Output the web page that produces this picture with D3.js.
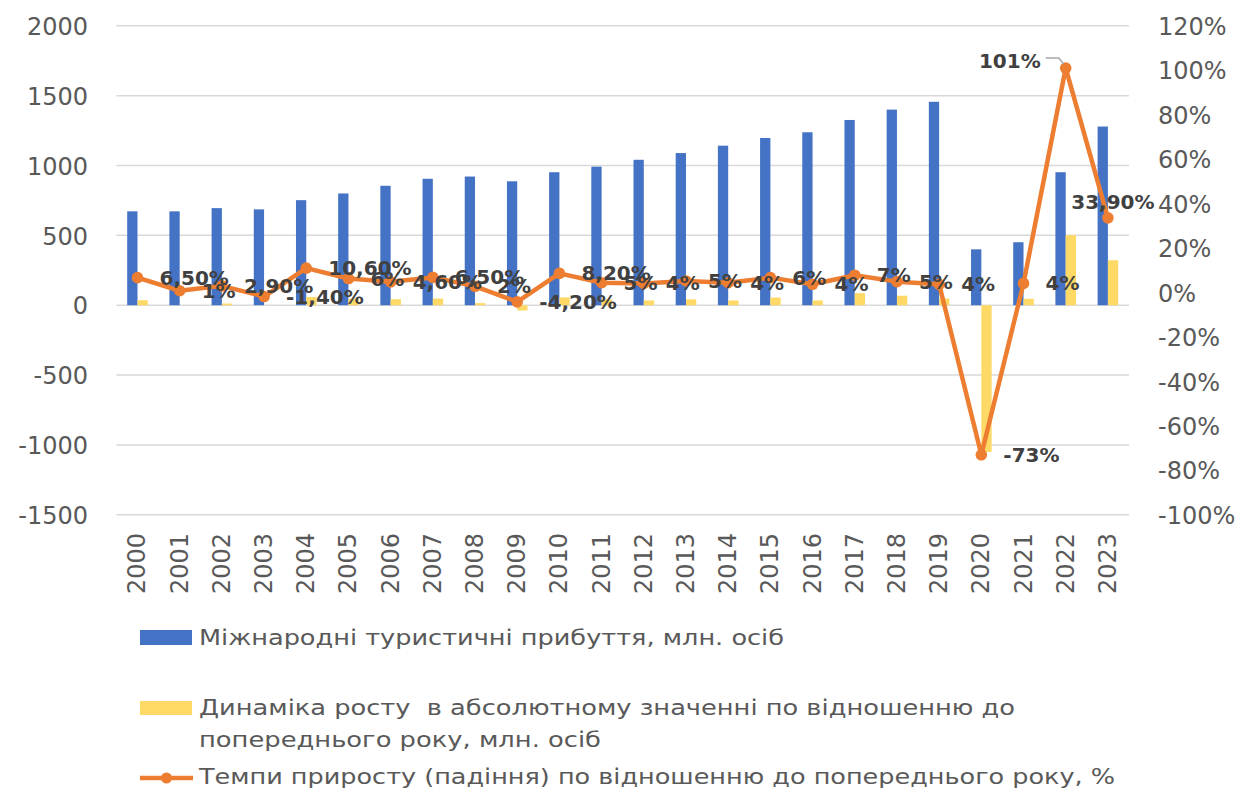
<!DOCTYPE html>
<html>
<head>
<meta charset="utf-8">
<script src="https://cdn.jsdelivr.net/npm/d3@7"></script>
<style>
  html, body { margin: 0; padding: 0; background: #ffffff; }
  svg { display: block; }
  text { font-family: "DejaVu Sans", Verdana, sans-serif; }
</style>
</head>
<body>
<svg id="chart" width="1254" height="792"></svg>
<script>
// ---------- DATA ----------
const years = ["2000","2001","2002","2003","2004","2005","2006","2007","2008","2009","2010","2011",
               "2012","2013","2014","2015","2016","2017","2018","2019","2020","2021","2022","2023"];
// International tourist arrivals, mln persons
const arrivals = [672, 672, 695, 686, 752, 800, 855, 905, 921, 887, 952, 992,
                  1041, 1089, 1142, 1197, 1238, 1326, 1400, 1456, 400, 451, 952, 1279];
// Absolute change to previous year, mln persons
const absChange = [36, 0, 12, 0, 59, 46, 43, 48, 15, -38, 56, 42,
                   34, 42, 34, 55, 34, 86, 68, 48, -1050, 46, 501, 322];
// Growth rate to previous year, %
const growthPct = [6.7, 0.8, 3.0, -1.8, 11.0, 6.3, 4.8, 6.8, 2.8, -4.2, 8.6, 4.4,
                   4.1, 5.2, 4.4, 6.7, 3.7, 7.8, 4.9, 3.7, -73, 4.1, 101, 33.6];
const growthLabels = ["6,50%","1%","2,90%","-1,40%","10,60%","6%","4,60%","6,50%","2%","-4,20%","8,20%","5%",
                      "4%","5%","4%","6%","4%","7%","5%","4%","-73%","4%","101%","33,90%"];
const leftTicks = [-1500, -1000, -500, 0, 500, 1000, 1500, 2000];
const rightTicks = [-100, -80, -60, -40, -20, 0, 20, 40, 60, 80, 100, 120];
const seriesNames = [
  "Міжнародні туристичні прибуття, млн. осіб",
  "Динаміка росту  в абсолютному значенні по відношенню до",
  "попереднього року, млн. осіб",
  "Темпи приросту (падіння) по відношенню до попереднього року, %"
];

// ---------- LAYOUT ----------
const svg = d3.select("#chart");
const plot = { left: 116.4, right: 1129, top: 25.8, bottom: 514.8 };
const C = { blue: "#4472C4", yellow: "#FFD966", orange: "#ED7D31", grid: "#D9D9D9", axis: "#595959", label: "#404040" };

svg.append("rect").attr("width", 1254).attr("height", 792).attr("fill", "#fff");

const x = d3.scaleBand().domain(years).range([plot.left, plot.right]).padding(0);
const xSub = d3.scaleBand().domain(["a", "b"]).range([0, x.bandwidth()]).paddingInner(0).paddingOuter(1.05);
const yL = d3.scaleLinear().domain([-1500, 2000]).range([plot.bottom, plot.top]);
const yR = d3.scaleLinear().domain([-100, 120]).range([plot.bottom, plot.top]);

// gridlines
svg.append("g").selectAll("line").data(leftTicks).join("line")
  .attr("x1", plot.left).attr("x2", plot.right)
  .attr("y1", d => yL(d)).attr("y2", d => yL(d))
  .attr("stroke", C.grid).attr("stroke-width", 1.5);

// left axis
const axL = d3.axisLeft(yL).tickValues(leftTicks).tickSize(0).tickPadding(0).tickFormat(d => String(d));
const gL = svg.append("g").attr("transform", "translate(88,0)").call(axL);
gL.select(".domain").remove();
gL.selectAll("text").attr("fill", C.axis).style("font-size", "24px").attr("dy", "0.36em");

// right axis
const axR = d3.axisRight(yR).tickValues(rightTicks).tickSize(0).tickPadding(0).tickFormat(d => String(d) + "%");
const gR = svg.append("g").attr("transform", "translate(1158,0)").call(axR);
gR.select(".domain").remove();
gR.selectAll("text").attr("fill", C.axis).style("font-size", "24px").attr("dy", "0.36em");

// category axis (rotated)
const axX = d3.axisBottom(x).tickSize(0).tickPadding(0);
const gX = svg.append("g").attr("transform", "translate(0,533)").call(axX);
gX.select(".domain").remove();
gX.selectAll("text").attr("fill", C.axis).style("font-size", "24px")
  .attr("text-anchor", "end").attr("dy", null).attr("y", 0)
  .attr("transform", "rotate(-90)").attr("x", 0).attr("dx", 0).attr("dominant-baseline", "central");

// bars
const gBars = svg.append("g");
gBars.selectAll("rect.blue").data(years).join("rect").attr("class", "blue")
  .attr("x", (d) => x(d) + xSub("a"))
  .attr("width", xSub.bandwidth())
  .attr("y", (d, i) => Math.min(yL(arrivals[i]), yL(0)))
  .attr("height", (d, i) => Math.abs(yL(arrivals[i]) - yL(0)))
  .attr("fill", C.blue);
gBars.selectAll("rect.yel").data(years).join("rect").attr("class", "yel")
  .attr("x", (d) => x(d) + xSub("b"))
  .attr("width", xSub.bandwidth())
  .attr("y", (d, i) => Math.min(yL(absChange[i]), yL(0)))
  .attr("height", (d, i) => Math.abs(yL(absChange[i]) - yL(0)))
  .attr("fill", C.yellow);

// line
const cx = d => x(d) + x.bandwidth() / 2;
const lineGen = d3.line().x((d, i) => cx(years[i])).y(d => yR(d));
svg.append("path").datum(growthPct).attr("d", lineGen)
  .attr("fill", "none").attr("stroke", C.orange).attr("stroke-width", 4.5)
  .attr("stroke-linejoin", "round").attr("stroke-linecap", "round");
svg.append("g").selectAll("circle").data(growthPct).join("circle")
  .attr("cx", (d, i) => cx(years[i])).attr("cy", d => yR(d)).attr("r", 5.8)
  .attr("fill", C.orange);

// data labels
const gLab = svg.append("g");
growthPct.forEach((v, i) => {
  const px = cx(years[i]), py = yR(v);
  let tx = px + 22, ty = py, anchor = "start";
  if (i === 22) { tx = px - 25; ty = py - 7; anchor = "end"; }
  if (i === 23) { tx = px + 5; ty = py - 16; anchor = "middle"; }
  gLab.append("text").attr("x", tx).attr("y", ty)
    .attr("text-anchor", anchor).attr("dominant-baseline", "central")
    .attr("fill", C.label).style("font-size", "20px").style("font-weight", "bold")
    .text(growthLabels[i]);
  if (i === 22) {
    gLab.append("polyline")
      .attr("points", [[px - 20, py - 10], [px - 7, py - 10], [px - 2, py - 4]].map(p => p.join(",")).join(" "))
      .attr("fill", "none").attr("stroke", "#A6A6A6").attr("stroke-width", 1.5);
  }
});

// legend
const gLeg = svg.append("g");
gLeg.append("rect").attr("x", 140).attr("y", 630).attr("width", 52).attr("height", 15).attr("fill", C.blue);
gLeg.append("rect").attr("x", 140).attr("y", 701).attr("width", 52).attr("height", 14).attr("fill", C.yellow);
gLeg.append("line").attr("x1", 140).attr("x2", 193).attr("y1", 778).attr("y2", 778)
  .attr("stroke", C.orange).attr("stroke-width", 4.5);
gLeg.append("circle").attr("cx", 166.5).attr("cy", 778).attr("r", 5.5).attr("fill", C.orange);
const legRows = [
  { t: seriesNames[0], y: 645, w: 585 },
  { t: seriesNames[1], y: 715, w: 816 },
  { t: seriesNames[2], y: 747, w: 402 },
  { t: seriesNames[3], y: 784, w: 916 }
];
legRows.forEach(r => {
  gLeg.append("text").attr("x", 199).attr("y", r.y)
    .attr("fill", C.axis).style("font-size", "21px").style("white-space", "pre")
    .attr("xml:space", "preserve")
    .attr("textLength", r.w).attr("lengthAdjust", "spacingAndGlyphs")
    .text(r.t);
});
</script>
</body>
</html>
